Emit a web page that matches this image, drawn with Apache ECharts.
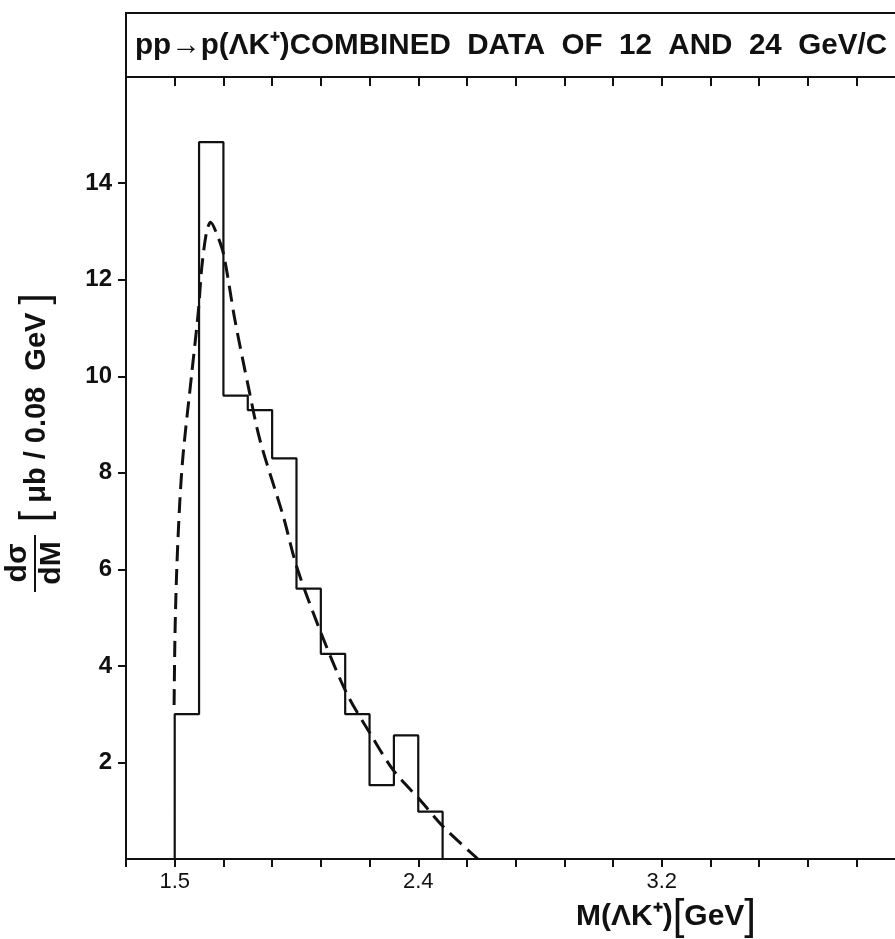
<!DOCTYPE html>
<html>
<head>
<meta charset="utf-8">
<script src="https://cdn.jsdelivr.net/npm/echarts@6/dist/echarts.min.js"></script>
<style>
html, body { margin: 0; padding: 0; background: #fff; }
#main { width: 895px; height: 939px; }
</style>
</head>
<body>
<div id="main"></div>
<script>
// histogram: left bin edges (last entry = right edge of last bin), dσ/dM per bin
var binEdges = [1.60, 1.68, 1.76, 1.84, 1.92, 2.00, 2.08, 2.16, 2.24, 2.32, 2.40, 2.48];
var binValues = [3.0, 14.85, 9.6, 9.3, 8.3, 5.6, 4.25, 3.0, 1.53, 2.56, 0.98];

// dashed fit curve
var curveX = [1.598, 1.601, 1.607, 1.617, 1.628, 1.656, 1.678, 1.689, 1.705, 1.718, 1.735, 1.760,
              1.798, 1.842, 1.880, 1.957, 2.001, 2.077, 2.165, 2.242, 2.318, 2.406, 2.482, 2.596];
var curveY = [3.19, 4.68, 6.05, 7.43, 8.41, 10.06, 11.37, 12.26, 13.0, 13.19, 13.0, 12.54,
              11.16, 9.78, 8.68, 7.09, 6.05, 4.74, 3.43, 2.60, 1.84, 1.22, 0.67, 0.0];

// axis ticks and labels
var xTicks = [1.44, 1.60, 1.76, 1.92, 2.08, 2.24, 2.40, 2.56, 2.72, 2.88, 3.04, 3.20, 3.36, 3.52, 3.68, 3.84];
var xLabelValues = [1.60, 2.40, 3.20];
var xLabelTexts = ['1.5', '2.4', '3.2'];
var yTicks = [2, 4, 6, 8, 10, 12, 14];

var ink = '#111';
var fontFam = '"Liberation Sans", Arial, sans-serif';

var histData = [[binEdges[0], 0]];
for (var i = 0; i < binValues.length; i++) {
    histData.push([binEdges[i], binValues[i]]);
}
histData.push([binEdges[binEdges.length - 1], 0]);

var curveData = curveX.map(function (x, i) { return [x, curveY[i]]; });

function xLabel(v) {
    for (var k = 0; k < xLabelValues.length; k++) {
        if (Math.abs(v - xLabelValues[k]) < 1e-6) return xLabelTexts[k];
    }
    return '';
}

var chart = echarts.init(document.getElementById('main'));
chart.setOption({
    backgroundColor: '#fff',
    animation: false,
    title: {
        text: 'pp→p(ΛK⁺)COMBINED  DATA  OF  12  AND  24  GeV/C',
        left: 126,
        top: 13,
        padding: [18, 400, 16, 9],
        borderColor: ink,
        borderWidth: 2,
        textStyle: {
            color: ink,
            fontFamily: fontFam,
            fontWeight: 'bold',
            fontSize: 29.6,
            lineHeight: 30
        }
    },
    grid: { left: 126, right: 0, top: 77, bottom: 80 },
    xAxis: [{
        type: 'value',
        min: 1.44,
        max: 3.966,
        axisLine: { lineStyle: { color: ink, width: 2 } },
        axisTick: { customValues: xTicks, length: 8, lineStyle: { color: ink, width: 2 } },
        axisLabel: {
            customValues: xLabelValues,
            formatter: xLabel,
            margin: 12,
            color: ink,
            fontFamily: fontFam,
            fontSize: 22
        },
        splitLine: { show: false }
    }, {
        type: 'value',
        position: 'top',
        min: 1.44,
        max: 3.966,
        axisLine: { show: true, lineStyle: { color: ink, width: 2 } },
        axisTick: { customValues: xTicks.slice(1), inside: true, length: 9, lineStyle: { color: ink, width: 2 } },
        axisLabel: { show: false },
        splitLine: { show: false }
    }],
    yAxis: {
        type: 'value',
        min: 0,
        max: 16.2,
        axisLine: { show: true, lineStyle: { color: ink, width: 2 } },
        axisTick: { show: true, customValues: yTicks, length: 8, lineStyle: { color: ink, width: 2 } },
        axisLabel: {
            customValues: yTicks,
            margin: 14,
            color: ink,
            fontFamily: fontFam,
            fontWeight: 'bold',
            fontSize: 24
        },
        splitLine: { show: false }
    },
    graphic: [{
        type: 'group',
        x: 35,
        y: 563,
        rotation: Math.PI / 2,
        children: [{
            type: 'text',
            x: 0, y: -17,
            style: { text: 'dσ', align: 'center', verticalAlign: 'middle', fill: ink,
                     font: 'bold 30px ' + fontFam }
        }, {
            type: 'line',
            shape: { x1: -29, y1: 0, x2: 28, y2: 0 },
            style: { stroke: ink, lineWidth: 2 }
        }, {
            type: 'text',
            x: 0, y: 17,
            style: { text: 'dM', align: 'center', verticalAlign: 'middle', fill: ink,
                     font: 'bold 30px ' + fontFam }
        }, {
            type: 'text',
            x: 41, y: 2,
            style: {
                text: '{b|[}{n| μb / 0.08  GeV }{b|]}',
                align: 'left', verticalAlign: 'middle', fill: ink,
                rich: {
                    b: { fontSize: 40, fontFamily: fontFam, fill: ink },
                    n: { fontSize: 29, fontFamily: fontFam, fontWeight: 'bold', fill: ink }
                }
            }
        }]
    }, {
        type: 'text',
        x: 666, y: 917,
        style: {
            text: '{n|M(ΛK⁺)}{b|[}{n|GeV}{b|]}',
            align: 'center', verticalAlign: 'middle', fill: ink,
            rich: {
                b: { fontSize: 42, fontFamily: fontFam, fill: ink },
                n: { fontSize: 30, fontFamily: fontFam, fontWeight: 'bold', fill: ink }
            }
        }
    }],
    series: [{
        type: 'line',
        name: 'histogram',
        step: 'end',
        data: histData,
        symbol: 'none',
        lineStyle: { color: ink, width: 2.2 }
    }, {
        type: 'line',
        name: 'fit',
        data: curveData,
        smooth: 0.3,
        symbol: 'none',
        lineStyle: { color: ink, width: 3, type: [16, 8] }
    }]
});
</script>
</body>
</html>
